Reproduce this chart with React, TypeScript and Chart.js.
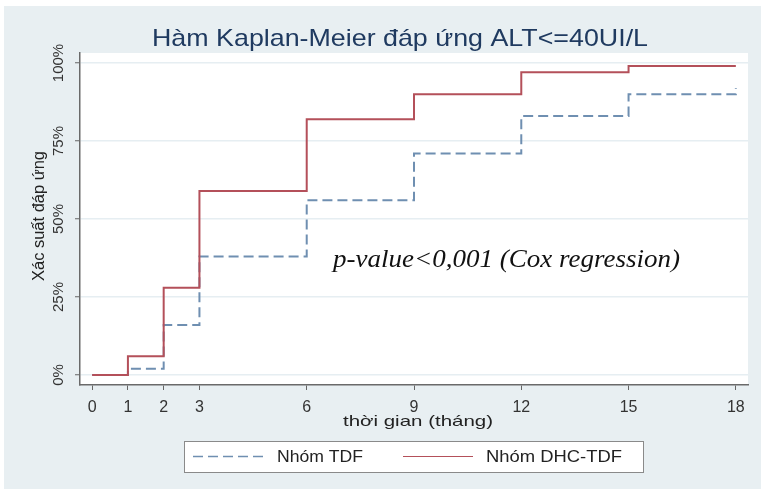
import React, { useEffect, useRef } from "react";
import { Chart, registerables } from "chart.js";

Chart.register(...registerables);

const months = [0, 1, 2, 3, 6, 9, 12, 15, 18];
const tdfValues = [0, 2, 16, 38, 56, 71, 83, 90, 92];
const dhcValues = [0, 6, 28, 59, 82, 90, 97, 99, 99];
const xTicks = [0, 1, 2, 3, 6, 9, 12, 15, 18];
const yTicks = [0, 25, 50, 75, 100];
const yTickLabels = ["0%", "25%", "50%", "75%", "100%"];
const seriesNames = ["Nhóm TDF", "Nhóm DHC-TDF"];
const titleText = "Hàm Kaplan-Meier đáp ứng ALT<=40UI/L";
const xTitle = "thời gian (tháng)";
const yTitle = "Xác suất đáp ứng";
const note = "p-value<0,001 (Cox regression)";

const BLUE = "#6f8fb1";
const RED = "#b4505a";
const BG = "#e8eff2";
const SANS = '"Liberation Sans", Arial, sans-serif';

function fillFit(ctx: any, text: string, x: number, y: number, target: number, align: "left" | "center") {
  const w = ctx.measureText(text).width;
  const sx = target / w;
  ctx.save();
  ctx.translate(x, y);
  ctx.scale(sx, 1);
  ctx.textAlign = align;
  ctx.textBaseline = "alphabetic";
  ctx.fillText(text, 0, 0);
  ctx.restore();
}

const decorPlugin = {
  id: "decor",
  beforeDraw(chart: any) {
    const { ctx, chartArea: a, width, height } = chart;
    ctx.save();
    ctx.fillStyle = "#ffffff";
    ctx.fillRect(0, 0, width, height);
    ctx.fillStyle = BG;
    ctx.fillRect(4, 6, width - 4, height - 6);
    ctx.fillStyle = "#ffffff";
    ctx.fillRect(a.left, a.top, a.right - a.left, a.bottom - a.top);
    ctx.restore();
  },
  afterDraw(chart: any) {
    const { ctx, scales } = chart;
    const xs = scales.x;
    const ys = scales.y;
    ctx.save();
    // title
    ctx.fillStyle = "#1f3a60";
    ctx.font = `24px ${SANS}`;
    fillFit(ctx, titleText, 400, 46, 496, "center");

    // y tick labels (rotated)
    ctx.fillStyle = "#333333";
    ctx.font = `15px ${SANS}`;
    yTicks.forEach((v, i) => {
      const y = ys.getPixelForValue(v);
      ctx.save();
      ctx.translate(63, y);
      ctx.rotate(-Math.PI / 2);
      ctx.textAlign = "center";
      ctx.textBaseline = "alphabetic";
      ctx.fillText(yTickLabels[i], 0, 0);
      ctx.restore();
    });

    // y title
    ctx.save();
    ctx.font = `16px ${SANS}`;
    ctx.fillStyle = "#222222";
    ctx.translate(44, 216);
    ctx.rotate(-Math.PI / 2);
    fillFit(ctx, yTitle, 0, 0, 130, "center");
    ctx.restore();

    // x tick labels
    ctx.font = `16px ${SANS}`;
    ctx.fillStyle = "#333333";
    ctx.textAlign = "center";
    ctx.textBaseline = "alphabetic";
    xTicks.forEach((v) => {
      ctx.fillText(String(v), xs.getPixelForValue(v), 412);
    });

    // x title
    ctx.font = `15px ${SANS}`;
    ctx.fillStyle = "#222222";
    fillFit(ctx, xTitle, 418, 426, 150, "center");

    // note
    ctx.font = `italic 25px "Liberation Serif", "Times New Roman", serif`;
    ctx.fillStyle = "#111111";
    fillFit(ctx, note, 333, 267, 347, "left");

    // legend
    ctx.fillStyle = "#ffffff";
    ctx.fillRect(184, 441, 459, 31);
    ctx.strokeStyle = "#8a8a8a";
    ctx.lineWidth = 1;
    ctx.strokeRect(184.5, 441.5, 459, 31);
    const ly = 456.5;
    ctx.strokeStyle = BLUE;
    ctx.lineWidth = 1.5;
    ctx.setLineDash([10, 5]);
    ctx.beginPath();
    ctx.moveTo(193, ly);
    ctx.lineTo(266, ly);
    ctx.stroke();
    ctx.setLineDash([]);
    ctx.strokeStyle = RED;
    ctx.lineWidth = 1.2;
    ctx.beginPath();
    ctx.moveTo(403, ly);
    ctx.lineTo(473, ly);
    ctx.stroke();
    ctx.font = `16px ${SANS}`;
    ctx.fillStyle = "#222222";
    fillFit(ctx, seriesNames[0], 277, 462, 86, "left");
    fillFit(ctx, seriesNames[1], 486, 462, 136, "left");
    ctx.restore();
  },
};

export default function App() {
  const ref = useRef<HTMLCanvasElement | null>(null);
  useEffect(() => {
    if (!ref.current) return;
    const chart = new Chart(ref.current, {
      type: "line",
      data: {
        datasets: [
          {
            label: seriesNames[0],
            data: months.map((m, i) => ({ x: m, y: tdfValues[i] })),
            borderColor: BLUE,
            borderWidth: 2,
            borderDash: [10, 5],
            stepped: "before",
            pointRadius: 0,
            fill: false,
            order: 2,
          },
          {
            label: seriesNames[1],
            data: months.map((m, i) => ({ x: m, y: dhcValues[i] })),
            borderColor: RED,
            borderWidth: 2,
            stepped: "before",
            pointRadius: 0,
            fill: false,
            order: 1,
          },
        ],
      },
      options: {
        responsive: false,
        animation: false,
        devicePixelRatio: 1,
        layout: { padding: { left: 0, top: 53, right: 13, bottom: 0 } },
        plugins: {
          legend: { display: false },
          title: { display: false },
          tooltip: { enabled: false },
        },
        scales: {
          x: {
            type: "linear",
            min: -0.34,
            max: 18.34,
            afterBuildTicks: (s: any) => {
              s.ticks = xTicks.map((v) => ({ value: v }));
            },
            afterFit: (s: any) => {
              s.height = 104;
            },
            ticks: { display: false },
            grid: {
              drawOnChartArea: false,
              drawTicks: true,
              tickLength: 5,
              tickColor: "#666666",
              tickWidth: 1,
            },
            border: { color: "#6a6a6a", width: 1.5 },
          },
          y: {
            type: "linear",
            min: -3.2,
            max: 103.2,
            afterBuildTicks: (s: any) => {
              s.ticks = yTicks.map((v) => ({ value: v }));
            },
            afterFit: (s: any) => {
              s.width = 80;
            },
            ticks: { display: false },
            grid: {
              drawOnChartArea: true,
              color: "#e6eef2",
              lineWidth: 1.5,
              drawTicks: true,
              tickLength: 5,
              tickColor: "#666666",
              tickWidth: 1,
            },
            border: { color: "#6a6a6a", width: 1.5 },
          },
        },
      },
      plugins: [decorPlugin],
    });
    return () => chart.destroy();
  }, []);
  return (
    <div style={{ position: "fixed", left: 0, top: 0, width: 761, height: 489 }}>
      <canvas ref={ref} width={761} height={489} />
    </div>
  );
}
